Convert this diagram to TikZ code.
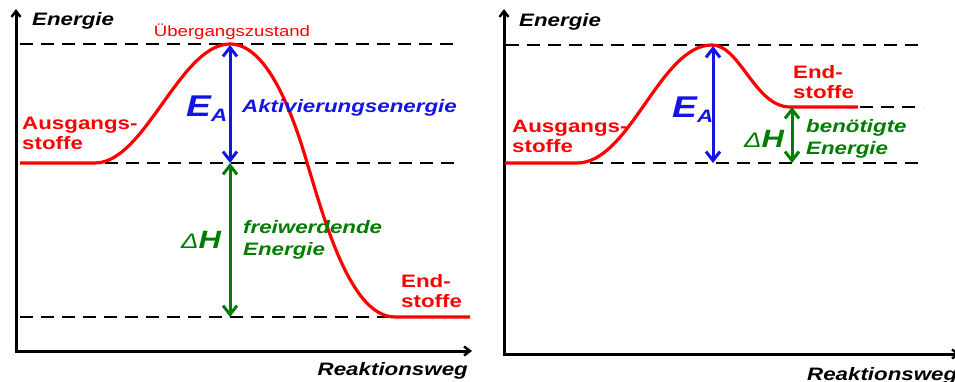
\documentclass[tikz,border=0pt]{standalone}
\usepackage{fontspec}
\setmainfont{Liberation Sans}[FakeStretch=1.24]
\usetikzlibrary{arrows.meta}
\definecolor{myred}{RGB}{255,0,0}
\definecolor{myblue}{RGB}{20,20,230}
\definecolor{mygreen}{RGB}{0,125,0}
\newcommand{\fs}[1]{\fontsize{#1}{#1}\selectfont}
\tikzset{
  axis/.style={line width=3pt,-{Straight Barb[length=6pt,width=9pt,line width=2.4pt]}},
  level/.style={line width=1.6pt,dash pattern=on 13pt off 8pt},
  curve/.style={myred,line width=3.2pt},
  darrow/.style={line width=3pt,{Straight Barb[length=9pt,width=14pt,line width=3pt]}-{Straight Barb[length=9pt,width=14pt,line width=3pt]}},
  lbl/.style={inner sep=0pt,font=\bfseries\itshape\fs{18}},
  red lbl/.style={inner sep=0pt,font=\bfseries\fs{18},text=myred,align=left},
  twol/.style={inner sep=0pt,align=left,font=\bfseries\itshape\fontsize{18}{22}\selectfont},
}
\begin{document}
\begin{tikzpicture}[x=1pt,y=-1pt]
\useasboundingbox (0,0) rectangle (955,382);
% ---------- left panel ----------
\coordinate (Lo) at (16,351);
\coordinate (Ly) at (16,9);
\coordinate (Lx) at (472,351);
\draw[axis] (Lo) -- (Ly);
\draw[axis] ([xshift=-1.5pt]Lo) -- (Lx);
\coordinate (Lt1) at (20,44);  \coordinate (Lt2) at (460,44);
\coordinate (Lm1) at (105,163); \coordinate (Lm2) at (460,163);
\coordinate (Lb1) at (20,317); \coordinate (Lb2) at (397,317);
\draw[level] (Lt1) -- (Lt2);
\draw[level] (Lm1) -- (Lm2);
\draw[level] (Lb1) -- (Lb2);
\coordinate (Lpeak) at (230,44);
\coordinate (Lstart) at (20,163);
\coordinate (Lend) at (470,317);
\draw[curve] (Lstart) -- (95,163) .. controls (145,163) and (180,44) .. (Lpeak)
  .. controls (262,44) and (285,95) .. (300,140)
  .. controls (318,194) and (345,317) .. (395,317) -- (Lend);
\coordinate (LA) at (230,45);
\coordinate (LB) at (230,163);
\coordinate (LC) at (230,317);
\draw[darrow,myblue] (LA) -- (LB);
\draw[darrow,mygreen] (LB) -- (LC);
\node[lbl,anchor=base west] (Len) at (32,26) {Energie};
\node[inner sep=0pt,anchor=base,text=myred,font=\fs{15}] (Lue) at (232,37) {Übergangszustand};
\node[inner sep=0pt,anchor=base west,text=myblue,font=\bfseries\itshape] (LEA) at (186,117)
  {\fs{30}E\raisebox{-5pt}{\fs{18}A}};
\node[lbl,anchor=base west,text=myblue] (Lakt) at (242,113) {Aktivierungsenergie};
\node[red lbl,anchor=north west] (Laus) at (22,117) {Ausgangs-\\[2pt]stoffe};
\node[inner sep=0pt,anchor=base west,text=mygreen,font=\bfseries\itshape] (LdH) at (181,248)
  {\fs{21}\textmd{Δ}\fs{25}H};
\node[twol,anchor=north west,text=mygreen] (Lfrei) at (243,220) {freiwerdende\\Energie};
\node[red lbl,anchor=north west] (Lend2) at (401,274) {End-\\[2pt]stoffe};
\node[lbl,anchor=base east] (Lrw) at (468,375) {Reaktionsweg};
% ---------- right panel ----------
\coordinate (Ro) at (504,354);
\coordinate (Ry) at (504,9);
\coordinate (Rx) at (960,354);
\draw[axis] (Ro) -- (Ry);
\draw[axis] ([xshift=-1.5pt]Ro) -- (Rx);
\coordinate (Rt1) at (506,45);  \coordinate (Rt2) at (923,45);
\coordinate (Rm1) at (860,107); \coordinate (Rm2) at (923,107);
\coordinate (Rb1) at (590,163); \coordinate (Rb2) at (923,163);
\draw[level] (Rt1) -- (Rt2);
\draw[level] (Rm1) -- (Rm2);
\draw[level] (Rb1) -- (Rb2);
\coordinate (Rpeak) at (712,45);
\coordinate (Rstart) at (505,163);
\coordinate (Rend) at (858,107);
\draw[curve] (Rstart) -- (577,163) .. controls (630,163) and (660,45) .. (Rpeak)
  .. controls (740,45) and (755,107) .. (790,107) -- (Rend);
\coordinate (RA) at (713,46);
\coordinate (RB) at (713,163);
\coordinate (RC) at (792,107);
\coordinate (RD) at (792,163);
\draw[darrow,myblue] (RA) -- (RB);
\draw[darrow,mygreen] (RC) -- (RD);
\node[lbl,anchor=base west] (Ren) at (519,27) {Energie};
\node[inner sep=0pt,anchor=base west,text=myblue,font=\bfseries\itshape] (REA) at (672,118)
  {\fs{30}E\raisebox{-5pt}{\fs{18}A}};
\node[red lbl,anchor=north west] (Raus) at (512,120) {Ausgangs-\\[2pt]stoffe};
\node[red lbl,anchor=north west] (Rend2) at (793,65) {End-\\[2pt]stoffe};
\node[inner sep=0pt,anchor=base west,text=mygreen,font=\bfseries\itshape] (RdH) at (744,148)
  {\fs{21}\textmd{Δ}\fs{25}H};
\node[twol,anchor=north west,text=mygreen] (Rben) at (806,119) {benötigte\\Energie};
\node[lbl,anchor=base west] (Rrw) at (807,380) {Reaktionsweg};
\end{tikzpicture}
\end{document}
